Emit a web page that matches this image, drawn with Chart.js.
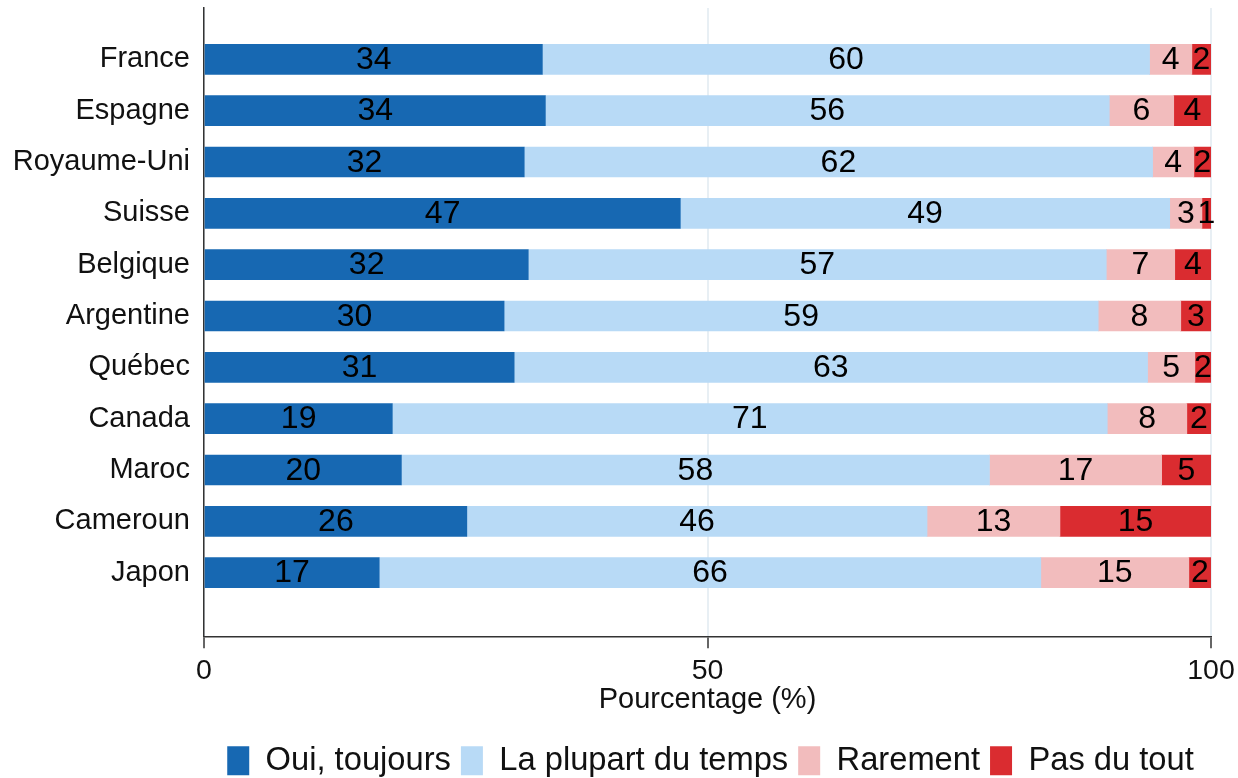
<!DOCTYPE html>
<html lang="fr">
<head>
  <meta charset="UTF-8">
  <title>Pourcentage par pays</title>
  <script src="https://cdn.jsdelivr.net/npm/chart.js"></script>
  <style>
    html, body { margin: 0; padding: 0; background: #fff; }
    canvas { display: block; }
  </style>
</head>
<body>
  <canvas id="chart" width="1238" height="778"></canvas>

<script>
  // données (en %)
  const countries = ['France', 'Espagne', 'Royaume-Uni', 'Suisse', 'Belgique', 'Argentine',
                     'Québec', 'Canada', 'Maroc', 'Cameroun', 'Japon'];
  const oui       = [33.6, 33.9, 31.8, 47.3, 32.2, 29.8, 30.8, 18.7, 19.6, 26.1, 17.4];
  const plupart   = [60.3, 56.0, 62.4, 48.6, 57.4, 59.0, 62.9, 71.0, 58.4, 45.7, 65.7];
  const rarement  = [4.2, 6.4, 4.1, 3.2, 6.8, 8.2, 4.7, 7.9, 17.1, 13.2, 14.7];
  const pasDuTout = [1.9, 3.7, 1.7, 0.9, 3.6, 3.0, 1.6, 2.4, 4.9, 15.0, 2.2];
  const seriesNames = ['Oui, toujours', 'La plupart du temps', 'Rarement', 'Pas du tout'];
  const xTicks = [0, 50, 100];

  const FONT = "'Liberation Sans', Arial, sans-serif";
  const colors = ['#1768b2', '#b8daf6', '#f2bcbd', '#da2c30'];

  const toPoints = arr => arr.map((v, i) => ({ x: v, y: i }));

  // étiquettes au centre de chaque segment
  const barLabels = {
    id: 'barLabels',
    afterDatasetsDraw(chart) {
      const ctx = chart.ctx;
      ctx.save();
      ctx.font = '32px ' + FONT;
      ctx.fillStyle = '#000';
      ctx.textAlign = 'center';
      ctx.textBaseline = 'middle';
      chart.data.datasets.forEach((ds, di) => {
        chart.getDatasetMeta(di).data.forEach((bar, i) => {
          const v = ds.data[i].x;
          ctx.fillText(Math.round(v), (bar.x + bar.base) / 2, bar.y + 1);
        });
      });
      ctx.restore();
    }
  };

  // décale un peu la légende vers le bas / la droite
  const legendShift = {
    id: 'legendShift',
    afterLayout(chart) {
      const lg = chart.legend;
      lg.top += 13; lg.bottom += 13;
      lg.left += 3; lg.right += 3;
    }
  };

  new Chart(document.getElementById('chart'), {
    type: 'bar',
    data: {
      datasets: [
        { label: seriesNames[0], data: toPoints(oui), backgroundColor: colors[0] },
        { label: seriesNames[1], data: toPoints(plupart), backgroundColor: colors[1] },
        { label: seriesNames[2], data: toPoints(rarement), backgroundColor: colors[2] },
        { label: seriesNames[3], data: toPoints(pasDuTout), backgroundColor: colors[3] }
      ]
    },
    options: {
      indexAxis: 'y',
      responsive: false,
      animation: false,
      devicePixelRatio: 1,
      layout: { padding: { top: 8, right: 27, bottom: 4, left: 0 } },
      datasets: { bar: { barThickness: 30, borderWidth: 0 } },
      scales: {
        x: {
          stacked: true,
          min: 0,
          max: 100,
          afterBuildTicks: s => { s.ticks = xTicks.map(v => ({ value: v })); },
          afterFit: s => { s.height = 85; s.paddingLeft = 0; s.paddingRight = 0; },
          grid: { color: '#e8eff4', lineWidth: 2, tickColor: '#333', tickLength: 12, tickWidth: 1.5 },
          border: { color: '#333', width: 1.5 },
          ticks: { color: '#111', font: { family: FONT, size: 28.5 }, padding: 6, maxRotation: 0 },
          title: { display: true, text: 'Pourcentage (%)', color: '#111',
                   font: { family: FONT, size: 29 }, padding: { top: 0, bottom: 4 } }
        },
        y: {
          type: 'linear',
          stacked: true,
          reverse: true,
          offset: false,
          min: -1.0,
          max: 11.24,
          afterBuildTicks: s => { s.ticks = countries.map((c, i) => ({ value: i })); },
          afterFit: s => { s.width = 204; s.paddingTop = 0; s.paddingBottom = 0; },
          grid: { display: false, drawTicks: false },
          border: { color: '#333', width: 1.5 },
          ticks: {
            color: '#111',
            font: { family: FONT, size: 29 },
            padding: 14,
            callback: v => countries[v]
          }
        }
      },
      plugins: {
        legend: {
          position: 'bottom',
          fullSize: false,
          labels: {
            color: '#111',
            font: { family: FONT, size: 32.7 },
            boxWidth: 22,
            boxHeight: 29,
            padding: 10
          }
        },
        tooltip: { enabled: false }
      }
    },
    plugins: [barLabels, legendShift]
  });
</script>

</body>
</html>
